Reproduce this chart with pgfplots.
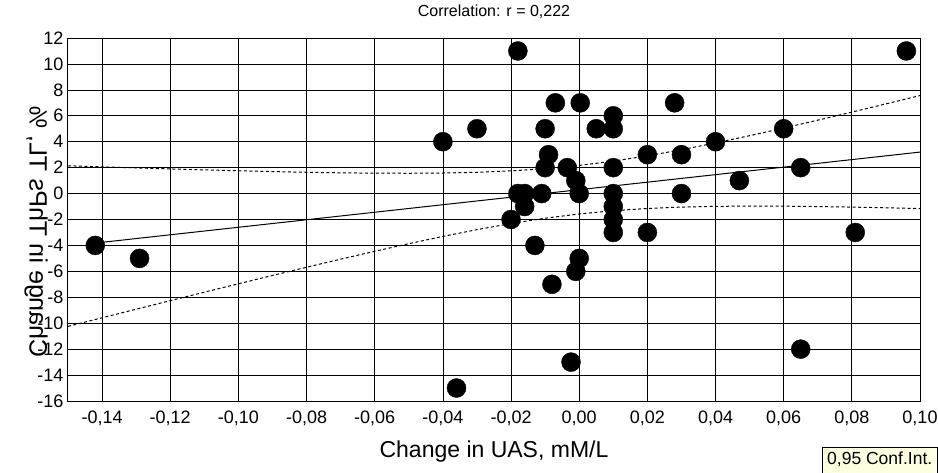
\documentclass[border=0pt]{standalone}
\usepackage{fontspec}
\setmainfont{Liberation Sans}
\usepackage{pgfplots}
\pgfplotsset{compat=1.18}
\definecolor{legfill}{HTML}{FFFFE1}

\begin{document}
\begin{tikzpicture}[x=1pt,y=1pt]
\path[use as bounding box] (0,0) rectangle (938,472);
\begin{axis}[
  at={(68pt,71pt)}, anchor=south west,
  scale only axis, width=852pt, height=363pt,
  xmin=-0.15, xmax=0.10, ymin=-16, ymax=12,
  xtick={-0.14,-0.12,-0.10,-0.08,-0.06,-0.04,-0.02,0,0.02,0.04,0.06,0.08,0.10},
  ytick={-16,-14,-12,-10,-8,-6,-4,-2,0,2,4,6,8,10,12},
  grid=major, major grid style={black, line width=0.7pt},
  axis line style={black, line width=1pt},
  tick style={draw=none},
  /pgf/number format/assume math mode=true,
  tick label style={font=\fontsize{18}{18}\selectfont},
  xticklabel style={yshift=-6pt, /pgf/number format/.cd, fixed, fixed zerofill, precision=2, use comma},
  yticklabel style={xshift=-1pt},
  clip=false,
]
% confidence band, upper
\addplot[black, line width=1pt, dash pattern=on 3pt off 2.5pt] coordinates {
(-0.15,2.145)(-0.14,2.061)(-0.13,1.979)(-0.12,1.901)(-0.11,1.828)(-0.10,1.759)
(-0.09,1.697)(-0.08,1.643)(-0.07,1.601)(-0.06,1.573)(-0.05,1.566)(-0.04,1.585)
(-0.03,1.642)(-0.02,1.750)(-0.01,1.922)(0.00,2.171)(0.01,2.502)(0.02,2.910)
(0.03,3.382)(0.04,3.905)(0.05,4.466)(0.06,5.053)(0.07,5.661)(0.08,6.283)
(0.09,6.917)(0.10,7.559)};
% confidence band, lower
\addplot[black, line width=1pt, dash pattern=on 3pt off 2.5pt] coordinates {
(-0.15,-10.245)(-0.14,-9.581)(-0.13,-8.919)(-0.12,-8.261)(-0.11,-7.608)(-0.10,-6.959)
(-0.09,-6.317)(-0.08,-5.683)(-0.07,-5.061)(-0.06,-4.453)(-0.05,-3.866)(-0.04,-3.305)
(-0.03,-2.782)(-0.02,-2.310)(-0.01,-1.902)(0.00,-1.571)(0.01,-1.322)(0.02,-1.150)
(0.03,-1.042)(0.04,-0.985)(0.05,-0.966)(0.06,-0.973)(0.07,-1.001)(0.08,-1.043)
(0.09,-1.097)(0.10,-1.159)};
% regression line
\addplot[black, line width=1pt] coordinates {(-0.142,-3.818)(0.10,3.20)};
% data
\addplot[only marks, mark=*, mark size=9.5pt, black] coordinates {
(-0.142,-4)(-0.129,-5)(-0.040,4)(-0.030,5)(-0.036,-15)(-0.018,11)
(-0.018,0)(-0.016,0)(-0.020,-2)(-0.016,-1)(-0.013,-4)(-0.011,0)
(-0.010,2)(-0.010,5)(-0.009,3)(-0.007,7)(-0.008,-7)(-0.0035,2)
(-0.0024,-13)(-0.001,-6)(-0.001,1)(0.0003,7)(0.000,0)(0.000,-5)
(0.005,5)(0.010,6)(0.010,5)(0.010,2)(0.010,0)(0.010,-1)
(0.010,-2)(0.010,-3)(0.020,3)(0.020,-3)(0.028,7)(0.030,3)
(0.030,0)(0.040,4)(0.047,1)(0.060,5)(0.065,2)(0.065,-12)
(0.081,-3)(0.096,11)};
\end{axis}
\node[font=\fontsize{16}{16}\selectfont] at (494,460) {Correlation: r = 0,222};
\node[font=\fontsize{23}{23}\selectfont] at (494,20) {Change in UAS, mM/L};
\node[rotate=90, font=\fontsize{25}{25}\selectfont] at (36,240) {\scalebox{1}[-1]{Change in ThPs TL, \%}};
\node[draw=black, fill=legfill, anchor=north west, inner xsep=5pt, inner ysep=5pt, minimum height=30pt, text depth=10pt, font=\fontsize{17.5}{17.5}\selectfont] at (822,25) {0,95 Conf.Int.};
\end{tikzpicture}
\end{document}
